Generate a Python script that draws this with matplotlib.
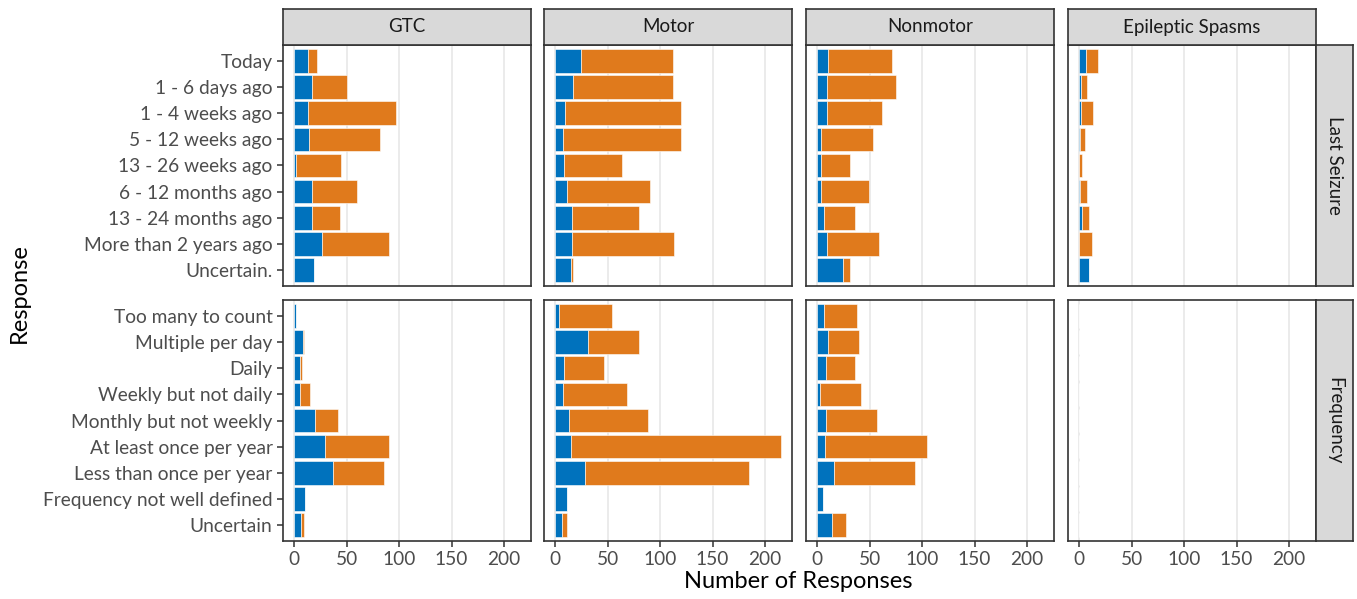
import matplotlib
matplotlib.use("Agg")
import matplotlib.pyplot as plt

plt.rcParams['font.family'] = ['Lato', 'DejaVu Sans']

seizure_types = ["GTC", "Motor", "Nonmotor", "Epileptic Spasms"]
row_names = ["Last Seizure", "Frequency"]

last_labels = ["Today", "1 - 6 days ago", "1 - 4 weeks ago", "5 - 12 weeks ago",
               "13 - 26 weeks ago", "6 - 12 months ago", "13 - 24 months ago",
               "More than 2 years ago", "Uncertain."]
freq_labels = ["Too many to count", "Multiple per day", "Daily", "Weekly but not daily",
               "Monthly but not weekly", "At least once per year", "Less than once per year",
               "Frequency not well defined", "Uncertain"]

# blue segment counts and orange segment counts (stacked)
gtc_last_blue = [13, 17, 13, 14, 2, 17, 17, 26, 19]
gtc_last_orange = [9, 33, 84, 68, 43, 43, 27, 64, 0]
gtc_freq_blue = [2, 8, 5, 5, 20, 29, 37, 10, 6]
gtc_freq_orange = [0, 1, 2, 10, 22, 61, 49, 0, 3]

motor_last_blue = [25, 17, 9, 7, 8, 11, 16, 16, 15]
motor_last_orange = [87, 95, 111, 113, 56, 79, 64, 97, 2]
motor_freq_blue = [4, 31, 8, 7, 13, 15, 28, 11, 6]
motor_freq_orange = [50, 49, 38, 61, 75, 200, 157, 0, 5]

nonmotor_last_blue = [10, 9, 9, 4, 4, 4, 6, 9, 25]
nonmotor_last_orange = [61, 66, 53, 49, 27, 45, 30, 50, 6]
nonmotor_freq_blue = [6, 10, 8, 3, 8, 7, 16, 5, 14]
nonmotor_freq_orange = [32, 30, 28, 39, 49, 98, 77, 0, 13]

spasms_last_blue = [6, 2, 2, 1, 0, 1, 3, 0, 9]
spasms_last_orange = [12, 5, 11, 4, 3, 6, 6, 12, 0]
spasms_freq_blue = [0, 0, 0, 0, 0, 0, 0, 0, 0]
spasms_freq_orange = [0, 0, 0, 0, 0, 0, 0, 0, 0]

data = {
    ("GTC", 0): (gtc_last_blue, gtc_last_orange),
    ("GTC", 1): (gtc_freq_blue, gtc_freq_orange),
    ("Motor", 0): (motor_last_blue, motor_last_orange),
    ("Motor", 1): (motor_freq_blue, motor_freq_orange),
    ("Nonmotor", 0): (nonmotor_last_blue, nonmotor_last_orange),
    ("Nonmotor", 1): (nonmotor_freq_blue, nonmotor_freq_orange),
    ("Epileptic Spasms", 0): (spasms_last_blue, spasms_last_orange),
    ("Epileptic Spasms", 1): (spasms_freq_blue, spasms_freq_orange),
}
xticks = [0, 50, 100, 150, 200]

BLUE = "#0072BD"
ORANGE = "#E07A1C"
W, H = 1357, 599
fig = plt.figure(figsize=(W / 100, H / 100), dpi=100)

col_lefts = [283, 544, 806, 1068]
pw = 248
row_tops = [45, 300]
ph = 241
strip_top = 9
strip_right_w = 37

def fx(px):
    return px / W

def fy(py):
    return 1 - py / H

border = "#333333"
for r in range(2):
    labels = last_labels if r == 0 else freq_labels
    for c, st in enumerate(seizure_types):
        ax = fig.add_axes([fx(col_lefts[c]), fy(row_tops[r] + ph), fx(pw), ph / H])
        blue, orange = data[(st, r)]
        y = list(range(len(labels)))
        ax.barh(y, blue, height=0.9, color=BLUE, edgecolor="white", linewidth=0.4, zorder=3)
        ax.barh(y, orange, left=blue, height=0.9, color=ORANGE, edgecolor="white", linewidth=0.4, zorder=3)
        ax.set_xlim(-10.75, 225.75)
        ax.set_ylim(len(labels) - 0.4, -0.6)
        ax.set_xticks(xticks)
        ax.grid(axis="x", color="#EBEBEB", linewidth=1.4, zorder=0)
        ax.set_axisbelow(True)
        for sp in ax.spines.values():
            sp.set_color(border)
            sp.set_linewidth(1.2)
        ax.tick_params(axis="both", colors=border, length=4, width=1.1, labelcolor="#4D4D4D", labelsize=13.8)
        if c == 0:
            ax.set_yticks(y)
            ax.set_yticklabels(labels)
        else:
            ax.set_yticks([])
        if r == 1:
            ax.set_xticklabels([str(t) for t in xticks])
        else:
            ax.tick_params(axis="x", length=0, labelbottom=False)
        if r == 0:
            sax = fig.add_axes([fx(col_lefts[c]), fy(row_tops[0]), fx(pw), (row_tops[0] - strip_top) / H])
            sax.set_facecolor("#D9D9D9")
            sax.set_xticks([]); sax.set_yticks([])
            for sp in sax.spines.values():
                sp.set_color(border); sp.set_linewidth(1.2)
            sax.text(0.5, 0.5, st, ha="center", va="center", fontsize=13.5, color="#1A1A1A",
                     transform=sax.transAxes)
    rax = fig.add_axes([fx(col_lefts[3] + pw), fy(row_tops[r] + ph), fx(strip_right_w), ph / H])
    rax.set_facecolor("#D9D9D9")
    rax.set_xticks([]); rax.set_yticks([])
    for sp in rax.spines.values():
        sp.set_color(border); sp.set_linewidth(1.2)
    rax.text(0.5, 0.5, row_names[r], ha="center", va="center", rotation=-90, fontsize=13.5,
             color="#1A1A1A", transform=rax.transAxes)

fig.text(fx(798), fy(582), "Number of Responses", ha="center", va="center", fontsize=17, color="black")
fig.text(fx(19), fy(293), "Response", ha="center", va="center", rotation=90, fontsize=17, color="black")

fig.savefig("out.png", dpi=100)
